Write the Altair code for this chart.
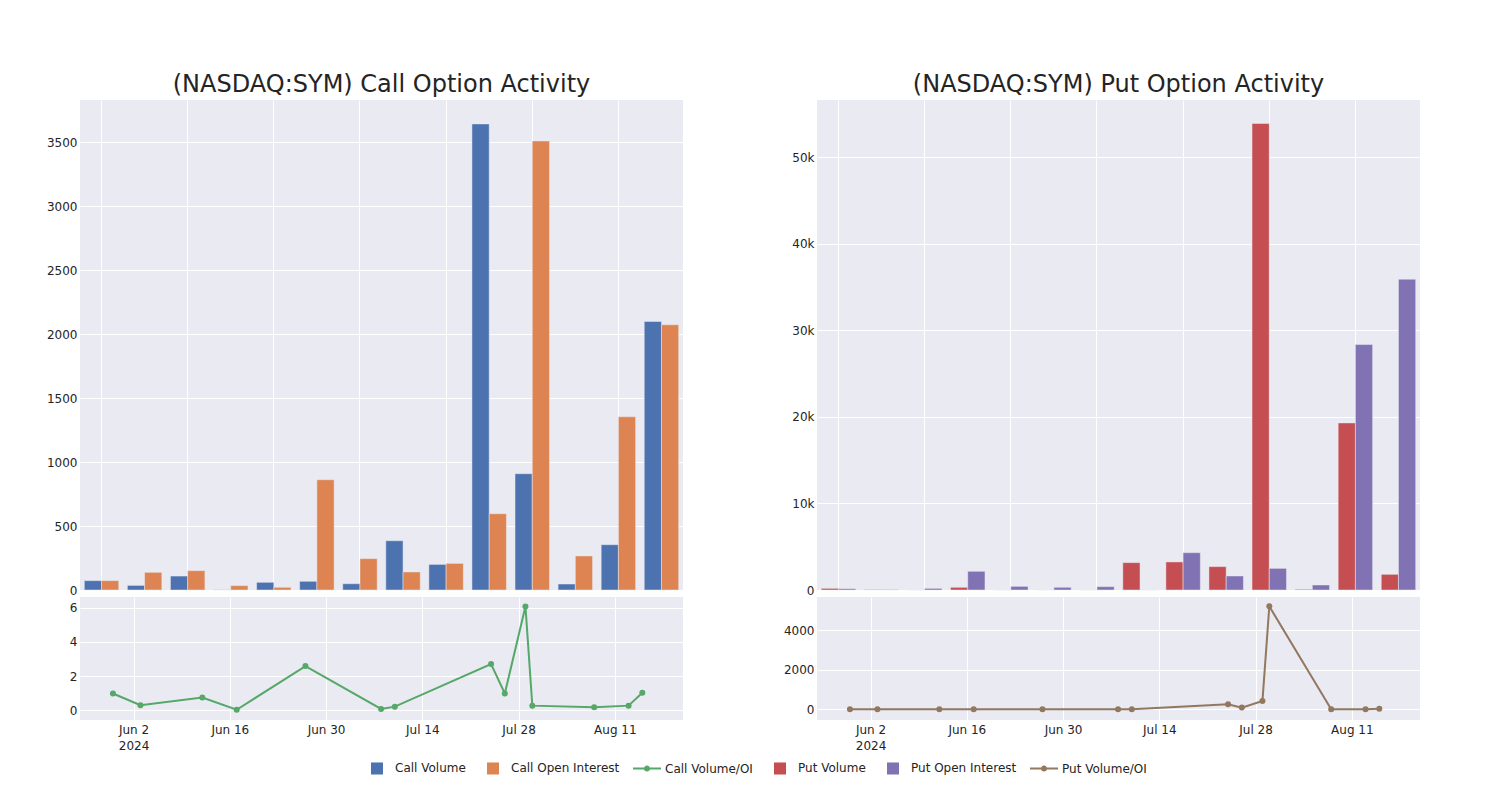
import altair as alt
import pandas as pd

# ---------------- data ----------------
dates = ["2024-05-30", "2024-06-03", "2024-06-12", "2024-06-17", "2024-06-27",
         "2024-07-08", "2024-07-10", "2024-07-24", "2024-07-26", "2024-07-29",
         "2024-07-30", "2024-08-08", "2024-08-13", "2024-08-15"]
call_volume = [73, 36, 109, 1, 60, 68, 49, 385, 200, 3643, 909, 47, 354, 2099]
call_oi = [73, 138, 151, 34, 21, 862, 245, 141, 208, 596, 3510, 266, 1354, 2073]
call_ratio = [0.98, 0.29, 0.74, 0.03, 2.58, 0.08, 0.21, 2.7, 0.98, 6.07, 0.27, 0.18, 0.27, 1.02]
put_volume = [190, 40, 0, 310, 0, 0, 0, 3160, 3240, 2700, 53890, 80, 19300, 1810]
put_oi = [150, 40, 190, 2160, 420, 310, 385, 0, 4310, 1620, 2500, 580, 28350, 35900]
put_ratio = [1, 1, 0, 0, 0, 0, 0, 253, 85, 422, 5200, 0, 0, 34]

series_names = ["Call Volume", "Call Open Interest", "Call Volume/OI",
                "Put Volume", "Put Open Interest", "Put Volume/OI"]
series_colors = ["#4C72B0", "#DD8452", "#55A868", "#C44E52", "#8172B3", "#937860"]

tick_dates = [(6, 2), (6, 16), (6, 30), (7, 14), (7, 28), (8, 11)]

# ---------------- styles ----------------
TXT = "#242424"
BG = "#EAEAF2"
SQ = "M-0.43,-0.43H0.43V0.43H-0.43Z"
LN = "M-1,-0.075H1V0.075H-1Z M0.22,0A0.22,0.22,0,1,1,-0.22,0A0.22,0.22,0,1,1,0.22,0Z"
symbol_paths = [SQ, SQ, LN, SQ, SQ, LN]

color_scale = alt.Scale(domain=series_names, range=series_colors)

W, H_TOP, H_BOT = 603, 490, 123

legend_params = dict(orient="none", legendX=283, legendY=654, direction="horizontal",
                     title=None, symbolSize=784, symbolStrokeWidth=0, symbolOpacity=1,
                     labelFontSize=12, labelFont="DejaVu Sans", labelColor=TXT,
                     labelOffset=4, columnPadding=13, padding=0)


def color_enc():
    return alt.Color("series:N", scale=color_scale, legend=alt.Legend(**legend_params))


def bars_df(vol, oi, vname, oname):
    rows = []
    for d, v, o in zip(dates, vol, oi):
        rows.append({"date": d, "series": vname, "value": v})
        rows.append({"date": d, "series": oname, "value": o})
    return pd.DataFrame(rows)


def bar_chart(df, names, ymax, yvals, ylabel_expr, title):
    return alt.Chart(df).mark_bar(stroke=BG, strokeWidth=0.5).encode(
        x=alt.X("date:N", sort=dates,
                scale=alt.Scale(paddingInner=0.2, paddingOuter=0.1),
                axis=alt.Axis(title=None, labels=False, ticks=False, domain=False,
                              grid=True, values=dates[::2], bandPosition=0.5)),
        xOffset=alt.XOffset("series:N", sort=names,
                            scale=alt.Scale(domain=names, paddingInner=0, paddingOuter=0)),
        y=alt.Y("value:Q", scale=alt.Scale(domain=[0, ymax], nice=False),
                axis=alt.Axis(title=None, values=yvals, labelExpr=ylabel_expr)),
        color=color_enc(),
    ).properties(width=W, height=H_TOP,
                 title=alt.TitleParams(title, fontSize=24, font="DejaVu Sans",
                                       fontWeight="normal", color=TXT,
                                       anchor="middle", offset=3))


x_dom = [alt.DateTime(year=2024, month=5, date=25, hours=5, utc=True),
         alt.DateTime(year=2024, month=8, date=20, hours=22, utc=True)]
x_vals = [alt.DateTime(year=2024, month=m, date=d, utc=True) for m, d in tick_dates]
label_expr = ("utcFormat(datum.value, '%m-%d') == '06-02' ? "
              "[utcFormat(datum.value, '%b %-d'), utcFormat(datum.value, '%Y')] : "
              "utcFormat(datum.value, '%b %-d')")


def line_chart(values, name, ydom, yvals):
    df = pd.DataFrame({"date": dates, "ratio": values, "series": name})
    base = alt.Chart(df).encode(
        x=alt.X("date:T", scale=alt.Scale(type="utc", domain=x_dom),
                axis=alt.Axis(title=None, values=x_vals, labelExpr=label_expr,
                              labelLineHeight=16, grid=True, ticks=False,
                              domain=False, labelPadding=4)),
        y=alt.Y("ratio:Q", scale=alt.Scale(domain=ydom, nice=False, zero=False),
                axis=alt.Axis(title=None, values=yvals, format="d")),
        color=color_enc(),
    )
    return alt.layer(base.mark_line(strokeWidth=2),
                     base.mark_circle(size=36, opacity=1)).properties(width=W, height=H_BOT)


legend_chart = alt.Chart(pd.DataFrame({"series": series_names})).mark_point(
    filled=True, opacity=1
).encode(
    color=color_enc(),
    shape=alt.Shape("series:N", scale=alt.Scale(domain=series_names, range=symbol_paths),
                    legend=alt.Legend(**legend_params)),
).transform_filter("false").properties(
    width=10, height=1, view=alt.ViewBackground(fill=None, stroke=None)
)

call_top = bar_chart(bars_df(call_volume, call_oi, "Call Volume", "Call Open Interest"),
                     ["Call Volume", "Call Open Interest"], 3830,
                     [0, 500, 1000, 1500, 2000, 2500, 3000, 3500],
                     "format(datum.value, 'd')",
                     "(NASDAQ:SYM) Call Option Activity")
put_top = bar_chart(bars_df(put_volume, put_oi, "Put Volume", "Put Open Interest"),
                    ["Put Volume", "Put Open Interest"], 56600,
                    [0, 10000, 20000, 30000, 40000, 50000],
                    "datum.value == 0 ? '0' : format(datum.value / 1000, 'd') + 'k'",
                    "(NASDAQ:SYM) Put Option Activity")

call_bot = line_chart(call_ratio, "Call Volume/OI", [-0.57, 6.62], [0, 2, 4, 6])
put_bot = line_chart(put_ratio, "Put Volume/OI", [-540, 5670], [0, 2000, 4000])

left = alt.vconcat(call_top, call_bot, spacing=1)
right = alt.vconcat(put_top, put_bot, spacing=1)
panels = alt.hconcat(left, right, spacing=100).resolve_scale(xOffset="independent")

chart = alt.vconcat(panels, legend_chart, spacing=5).resolve_scale(
    color="shared"
).properties(
    padding={"left": 38, "top": 65, "right": 20, "bottom": 5}
).configure(
    font="DejaVu Sans",
    background="white",
).configure_view(
    fill=BG, stroke=None
).configure_axis(
    gridColor="white", gridWidth=1, labelColor=TXT, labelFontSize=12,
    labelFont="DejaVu Sans", ticks=False, domain=False, labelPadding=3,
)

chart.save("out.html", embed_options={"renderer": "svg", "actions": False})
